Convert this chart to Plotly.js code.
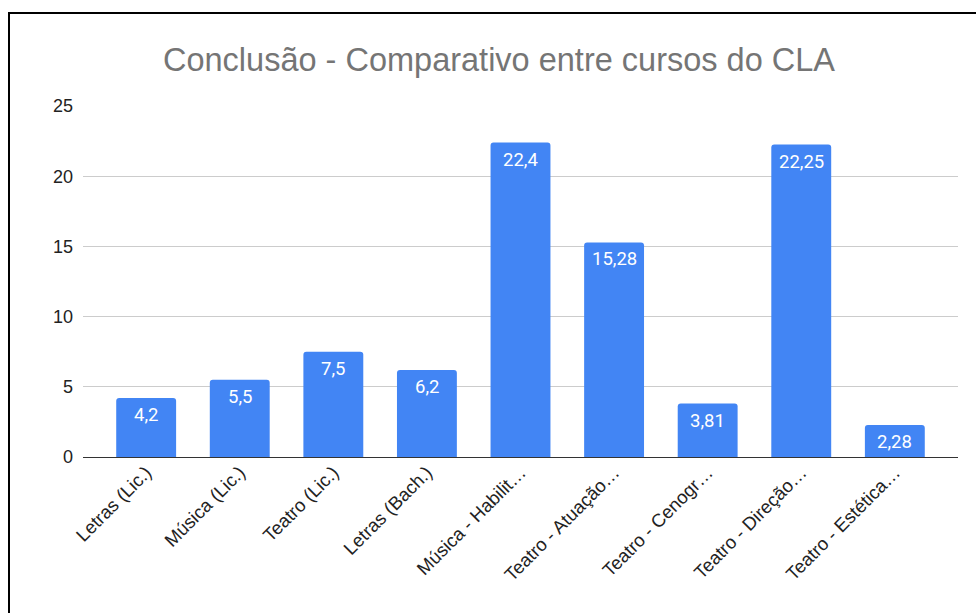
<!DOCTYPE html>
<html>
<head>
<meta charset="utf-8">
<script src="https://cdn.plot.ly/plotly-3.0.1.min.js"></script>
<style>
  html, body { margin: 0; padding: 0; background: #fff; }
  #chart { position: absolute; left: 0; top: 0; width: 976px; height: 613px; }
  #frame { position: absolute; left: 8px; top: 12px; width: 1000px; height: 700px;
           border-top: 2px solid #000; border-left: 2px solid #000; pointer-events: none; }
</style>
</head>
<body>
<div id="chart"></div>
<div id="frame"></div>
<script>
const categories = [
  "Letras (Lic.)",
  "Música (Lic.)",
  "Teatro (Lic.)",
  "Letras (Bach.)",
  "Música - Habilit…",
  "Teatro - Atuação…",
  "Teatro - Cenogr…",
  "Teatro - Direção…",
  "Teatro - Estética…"
];
const values = [4.2, 5.5, 7.5, 6.2, 22.4, 15.28, 3.81, 22.25, 2.28];
const valueLabels = ["4,2", "5,5", "7,5", "6,2", "22,4", "15,28", "3,81", "22,25", "2,28"];
const yTicks = [0, 5, 10, 15, 20, 25];

const trace = {
  type: "bar",
  x: categories,
  y: values,
  width: 0.64,
  marker: { color: "#4285F4", line: { width: 0 } },
  hoverinfo: "none"
};

const annotations = categories.map((c, i) => ({
  x: c, y: values[i], xref: "x", yref: "y",
  text: valueLabels[i], showarrow: false,
  yanchor: "middle", xanchor: "center", yshift: -17,
  font: { family: "Roboto, Arial, sans-serif", size: 18.5, color: "#ffffff" }
}));

const layout = {
  width: 976, height: 613,
  margin: { l: 83, r: 18, t: 106, b: 156, pad: 0 },
  paper_bgcolor: "#ffffff", plot_bgcolor: "#ffffff",
  showlegend: false,
  barcornerradius: 3,
  title: {
    text: "Conclusão - Comparativo entre cursos do CLA",
    font: { family: "Liberation Sans, Arial, sans-serif", size: 32.5, color: "#757575" },
    x: 499 / 976, xref: "container", xanchor: "center",
    y: 1 - 60 / 613, yref: "container", yanchor: "middle"
  },
  xaxis: {
    type: "category",
    range: [-0.675, 8.675],
    tickangle: -45,
    ticks: "",
    showgrid: false,
    showline: false,
    zeroline: false,
    tickfont: { family: "Liberation Sans, Arial, sans-serif", size: 18.5, color: "#222222" },
    fixedrange: true
  },
  yaxis: {
    range: [0, 25],
    tickvals: yTicks,
    ticktext: yTicks.map(String),
    ticks: "",
    showgrid: true,
    gridcolor: "#cccccc",
    gridwidth: 1,
    zeroline: true,
    zerolinecolor: "#333333",
    zerolinewidth: 1,
    showline: false,
    ticklabelstandoff: 9,
    tickfont: { family: "Liberation Sans, Arial, sans-serif", size: 18, color: "#222222" },
    fixedrange: true
  },
  annotations: annotations
};

Plotly.newPlot("chart", [trace], layout, { displayModeBar: false, staticPlot: true });
</script>
</body>
</html>
